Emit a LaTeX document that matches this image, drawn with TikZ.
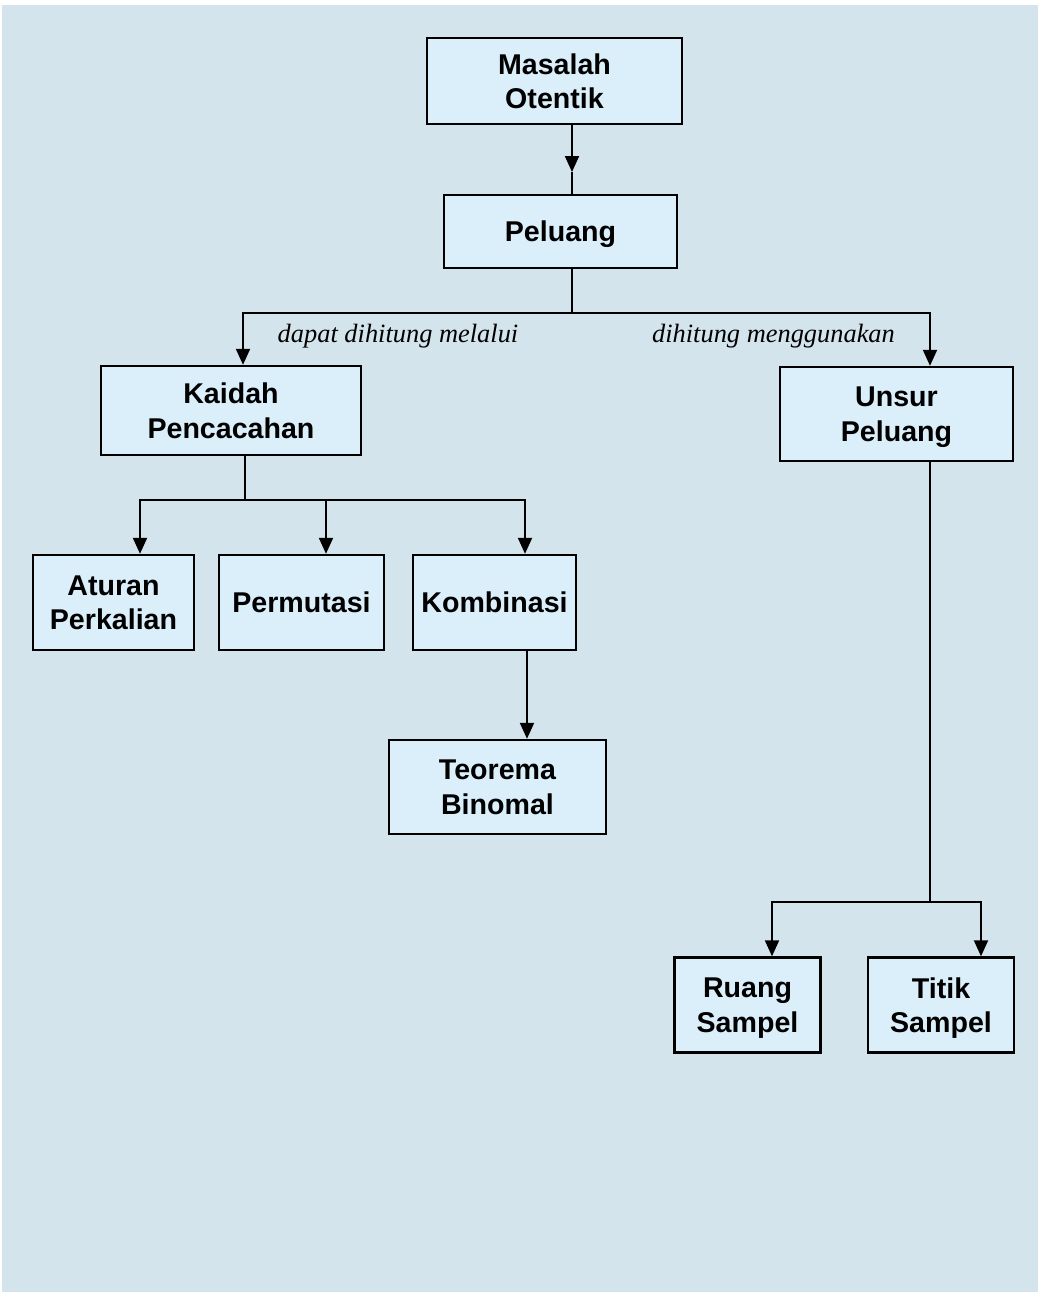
\documentclass[tikz,border=0pt]{standalone}
\usepackage{fontspec}
\setmainfont{Liberation Serif}
\setsansfont{Liberation Sans}
\usepackage{xcolor}
\usetikzlibrary{positioning,arrows.meta}

\definecolor{bgblue}{RGB}{212,228,236}
\definecolor{boxblue}{RGB}{219,239,251}

\begin{document}
\begin{tikzpicture}[
	  x=0.5pt, y=-0.5pt,
	  %style for arrows
	  arrw/.style={line width=1pt, ->, >={Triangle[length=8pt,width=7pt]}},
	  %style for plain lines
	  ln/.style={line width=1pt},
	  % style for boxes
	  bx/.style={rectangle, fill=boxblue, draw=black, line width=1.2pt, align=center, inner sep=0pt,
	    text depth=0pt, font=\sffamily\bfseries\fontsize{14.3}{17.2}\selectfont},
	  % style for the labels on the branches
	  lbl/.style={font=\itshape\fontsize{13.2}{15}\selectfont, inner sep=0pt, anchor=base}]

	  % page and background
	  \fill[white] (0,0) rectangle (1038,1292);
	  \fill[bgblue] (2,5) rectangle (1038,1292);

	  \node[bx, minimum width=127.5pt, minimum height=43pt](masalah) at (554.5,81){Masalah\\Otentik};
	  \node[bx, minimum width=116.5pt, minimum height=36.5pt](peluang) at (560.5,231.5){Peluang};
	  \node[bx, minimum width=130pt, minimum height=44.5pt](kaidah) at (231,410.5){Kaidah\\Pencacahan};
	  \node[bx, minimum width=116.5pt, minimum height=47pt](unsur) at (896.5,414){Unsur\\Peluang};
	  \node[bx, minimum width=80.5pt, minimum height=47.5pt](aturan) at (113.5,602.5){Aturan\\Perkalian};
	  \node[bx, minimum width=82.5pt, minimum height=47.5pt](permutasi) at (301.5,602.5){Permutasi};
	  \node[bx, minimum width=81.5pt, minimum height=47.5pt](kombinasi) at (494.5,602.5){Kombinasi};
	  \node[bx, minimum width=108.5pt, minimum height=47pt](teorema) at (497.5,787){Teorema\\Binomal};
	  \node[bx, minimum width=73pt, minimum height=47.5pt](ruang) at (747.5,1005){Ruang\\Sampel};
	  \node[bx, minimum width=73pt, minimum height=47.5pt](titik) at (941,1005){Titik\\Sampel};

	  % masalah -> peluang, tip half way
	  \coordinate (tipmp) at (572,172);
	  \draw[arrw] (masalah.south -| tipmp) -- (tipmp);
	  \draw[ln] (tipmp) -- (peluang.north -| tipmp);

	  % peluang -> kaidah, unsur
	  \coordinate (splitp) at (572,313);
	  \coordinate (dkaidah) at (243,313);
	  \coordinate (dunsur) at (930,313);
	  \draw[ln] (peluang.south -| splitp) -- (splitp);
	  \draw[arrw] (splitp) -- (dkaidah) -- (kaidah.north -| dkaidah);
	  \draw[arrw] (splitp) -- (dunsur) -- (unsur.north -| dunsur);
	  \node[lbl](lblkaidah) at (398,342){dapat dihitung melalui};
	  \node[lbl](lblunsur) at (773.5,342){dihitung menggunakan};

	  % kaidah -> aturan, permutasi, kombinasi
	  \coordinate (splitk) at (245,500);
	  \coordinate (daturan) at (140,500);
	  \coordinate (dperm) at (326,500);
	  \coordinate (dkomb) at (525,500);
	  \draw[ln] (kaidah.south -| splitk) -- (splitk);
	  \draw[arrw] (splitk) -- (daturan) -- (aturan.north -| daturan);
	  \draw[arrw] (dperm) -- (permutasi.north -| dperm);
	  \draw[arrw] (splitk) -- (dkomb) -- (kombinasi.north -| dkomb);

	  % kombinasi -> teorema
	  \coordinate (dteorema) at (527,700);
	  \draw[arrw] (kombinasi.south -| dteorema) -- (teorema.north -| dteorema);

	  % unsur -> ruang, titik
	  \coordinate (splitu) at (930,902);
	  \coordinate (druang) at (772,902);
	  \coordinate (dtitik) at (981,902);
	  \draw[ln] (unsur.south -| splitu) -- (splitu);
	  \draw[arrw] (splitu) -- (druang) -- (ruang.north -| druang);
	  \draw[arrw] (splitu) -- (dtitik) -- (titik.north -| dtitik);

\end{tikzpicture}
\end{document}
